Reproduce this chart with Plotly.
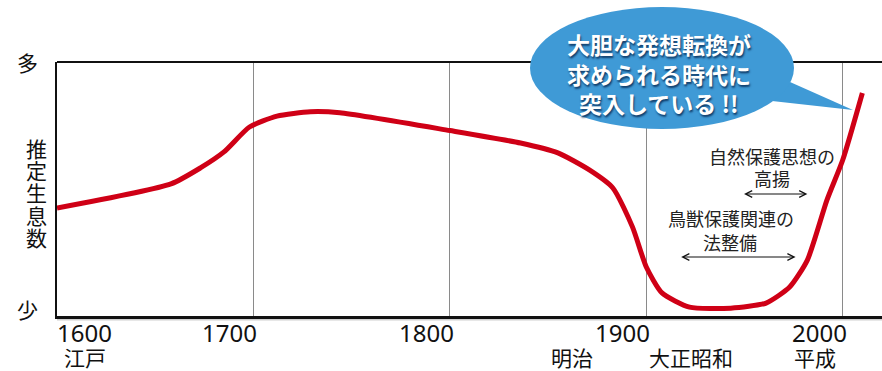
import plotly.graph_objects as go

# ---- data ----
years = [1600, 1658, 1673, 1685, 1698, 1712, 1729, 1744, 1800, 1836, 1855, 1871,
         1883, 1893, 1900, 1908, 1922, 1943, 1961, 1973, 1982, 1992, 2000, 2010]
population = [42.5, 52.0, 58.3, 64.6, 74.4, 78.7, 80.4, 80.0, 73.0, 68.1, 64.2, 57.5,
              50.4, 35.0, 19.3, 9.1, 3.5, 3.1, 5.1, 11.4, 22.0, 45.7, 61.4, 87.8]

grid_years = [1700, 1800, 1900, 2000]
tick_years = [1600, 1700, 1800, 1900, 2000]
tick_labels = ["1600", "1700", "1800", "1900", "2000"]
era_labels = ["江戸", "明治", "大正昭和", "平成"]
era_x = [1614, 1862, 1923, 1986]
y_top_label = "多"
y_bottom_label = "少"
y_title_chars = ["推", "定", "生", "息", "数"]
bubble_lines = ["大胆な発想転換が", "求められる時代に", "突入している !!"]
note1_lines = ["自然保護思想の", "高揚"]
note1_span = [1949, 1982]
note2_lines = ["鳥獣保護関連の", "法整備"]
note2_span = [1917, 1976]

JP = "Noto Sans CJK JP"
RED = "#cf0016"
BLUE = "#3f9ad6"

W, H = 882, 371
L, R, T, B = 57, 0, 62, 55
PW, PH = W - L - R, H - T - B


def px2paper_x(px):
    return (px - L) / PW


def px2paper_y(py):
    return (H - B - py) / PH


fig = go.Figure()
fig.add_trace(go.Scatter(
    x=years, y=population, mode="lines",
    line=dict(color=RED, width=5, shape="spline", smoothing=0.6),
    hoverinfo="skip", showlegend=False,
))

ann = []
# year tick labels
for yr, lab in zip(tick_years, tick_labels):
    if yr == 1600:
        ann.append(dict(x=yr, y=0, xref="x", yref="paper", text=lab, showarrow=False,
                        xanchor="left", yanchor="middle", xshift=-2, yshift=-16,
                        font=dict(family="Noto Sans", size=24, color="#111")))
    else:
        ann.append(dict(x=yr, y=0, xref="x", yref="paper", text=lab, showarrow=False,
                        xanchor="right", yanchor="middle", xshift=6, yshift=-16,
                        font=dict(family="Noto Sans", size=24, color="#111")))
# era labels
for ex, lab in zip(era_x, era_labels):
    ann.append(dict(x=ex, y=0, xref="x", yref="paper", text=lab, showarrow=False,
                    xanchor="center", yanchor="middle", yshift=-41,
                    font=dict(family=JP, size=21, color="#111")))
# y labels
ann.append(dict(x=0, y=px2paper_y(62), xref="paper", yref="paper", text=y_top_label,
                showarrow=False, xanchor="center", yanchor="middle", xshift=-30,
                font=dict(family=JP, size=21, color="#111")))
ann.append(dict(x=0, y=px2paper_y(309), xref="paper", yref="paper", text=y_bottom_label,
                showarrow=False, xanchor="center", yanchor="middle", xshift=-30,
                font=dict(family=JP, size=21, color="#111")))
for i, ch in enumerate(y_title_chars):
    ann.append(dict(x=0, y=px2paper_y(148 + 22.2 * i), xref="paper", yref="paper", text=ch,
                    showarrow=False, xanchor="center", yanchor="middle", xshift=-21,
                    borderpad=0,
                    font=dict(family=JP, size=21, color="#111")))

# bubble text
for i, line in enumerate(bubble_lines):
    ann.append(dict(x=px2paper_x(659), y=px2paper_y(44 + 29.5 * i), xref="paper", yref="paper",
                    text="<b>" + line + "</b>", showarrow=False,
                    xanchor="center", yanchor="middle",
                    font=dict(family=JP, size=23, color="white",
                              shadow="1px 2px 2px rgba(0,30,70,0.75)")))

# notes
ann.append(dict(x=px2paper_x(772), y=px2paper_y(156), xref="paper", yref="paper",
                text=note1_lines[0], showarrow=False, xanchor="center", yanchor="middle",
                font=dict(family=JP, size=18, color="#222")))
ann.append(dict(x=px2paper_x(772), y=px2paper_y(178), xref="paper", yref="paper",
                text=note1_lines[1], showarrow=False, xanchor="center", yanchor="middle",
                font=dict(family=JP, size=18, color="#222")))
ann.append(dict(x=px2paper_x(731), y=px2paper_y(218), xref="paper", yref="paper",
                text=note2_lines[0], showarrow=False, xanchor="center", yanchor="middle",
                font=dict(family=JP, size=18, color="#222")))
ann.append(dict(x=px2paper_x(730), y=px2paper_y(242), xref="paper", yref="paper",
                text=note2_lines[1], showarrow=False, xanchor="center", yanchor="middle",
                font=dict(family=JP, size=18, color="#222")))

# double arrows
for span, py in [(note1_span, 194), (note2_span, 257)]:
    ann.append(dict(x=span[1], y=(H - B - py) / PH * 100, xref="x", yref="y",
                    ax=span[0], ay=(H - B - py) / PH * 100, axref="x", ayref="y",
                    text="", showarrow=True, arrowhead=5, startarrowhead=5,
                    arrowside="end+start", arrowsize=1.1, startarrowsize=1.1,
                    arrowwidth=1.2, arrowcolor="#111", standoff=0, startstandoff=0))

shapes = []
# top border
shapes.append(dict(type="line", xref="paper", yref="paper", x0=0, x1=1, y0=1, y1=1,
                   line=dict(color="#111", width=2)))
# bottom shadow
shapes.append(dict(type="line", xref="paper", yref="paper", x0=0, x1=1,
                   y0=px2paper_y(319), y1=px2paper_y(319),
                   line=dict(color="#cfcfcf", width=3), layer="below"))
# bubble tail
tail = [(790, 82), (853, 110), (772, 101)]
p = "M " + " L ".join(f"{px2paper_x(a):.4f},{px2paper_y(b):.4f}" for a, b in tail) + " Z"
shapes.append(dict(type="path", xref="paper", yref="paper", path=p,
                   fillcolor=BLUE, line=dict(width=0)))
# bubble ellipse
shapes.append(dict(type="circle", xref="paper", yref="paper",
                   x0=px2paper_x(530), x1=px2paper_x(794),
                   y0=px2paper_y(129), y1=px2paper_y(7),
                   fillcolor=BLUE, line=dict(width=0)))

fig.update_layout(
    width=W, height=H,
    margin=dict(l=L, r=R, t=T, b=B, pad=0),
    paper_bgcolor="white", plot_bgcolor="white",
    showlegend=False,
    xaxis=dict(range=[1600, 2020], tickvals=grid_years, showticklabels=False,
               showgrid=True, gridcolor="#8a8a8a", gridwidth=1, zeroline=False,
               showline=True, linecolor="#111", linewidth=3, ticks="", fixedrange=True),
    yaxis=dict(range=[0, 100], showticklabels=False, showgrid=False, zeroline=False,
               showline=True, linecolor="#111", linewidth=2, ticks="", fixedrange=True),
    annotations=ann,
    shapes=shapes,
)

fig.write_html("out.html")
